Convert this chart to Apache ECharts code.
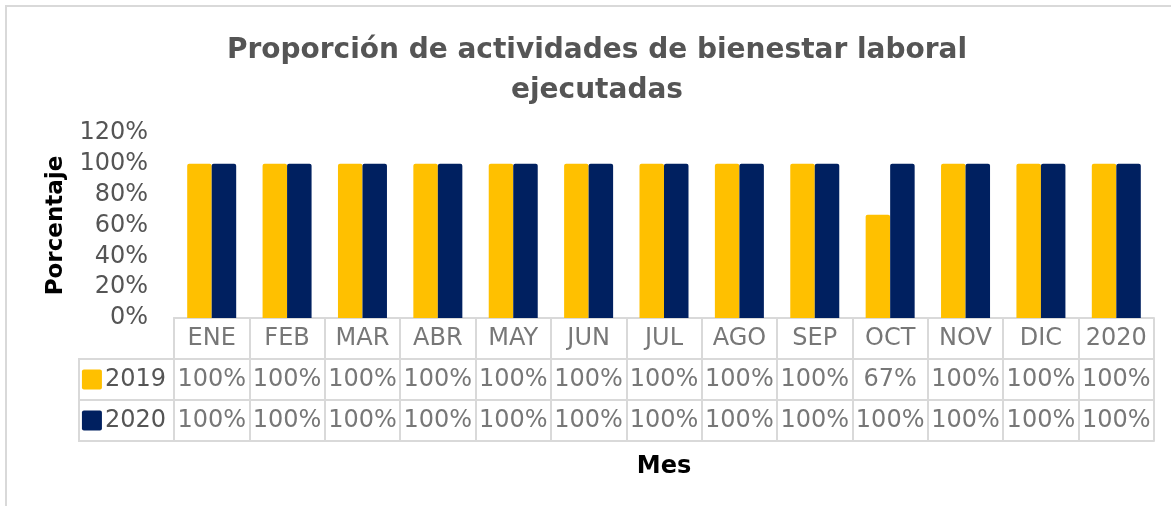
<!DOCTYPE html>
<html>
<head>
<meta charset="utf-8">
<script src="https://cdn.jsdelivr.net/npm/echarts@6/dist/echarts.min.js"></script>
<style>
  html, body { margin: 0; padding: 0; background: #fff; }
  #chart { width: 1171px; height: 506px; }
</style>
</head>
<body>
<div id="chart"></div>
<script>
// datos
var meses = ['ENE', 'FEB', 'MAR', 'ABR', 'MAY', 'JUN', 'JUL', 'AGO', 'SEP', 'OCT', 'NOV', 'DIC', '2020'];
var serie2019 = [1, 1, 1, 1, 1, 1, 1, 1, 1, 0.67, 1, 1, 1];
var serie2020 = [1, 1, 1, 1, 1, 1, 1, 1, 1, 1, 1, 1, 1];
var filas = ['', '2019', '2020'];

var amarillo = '#FFC000';
var azul = '#002060';
var gris = '#555555';
var linea = '#d9d9d9';
var fuente = '"DejaVu Sans", Verdana, sans-serif';

function pct(v) { return Math.round(v * 100) + '%'; }

// celdas de la tabla de datos
var celdas = [];
for (var i = 0; i < meses.length; i++) {
  celdas.push([i, 0, meses[i]]);
  celdas.push([i, 1, pct(serie2019[i])]);
  celdas.push([i, 2, pct(serie2020[i])]);
}

var chart = echarts.init(document.getElementById('chart'));

var option = {
  backgroundColor: '#fff',
  animation: false,
  title: {
    text: 'Proporción de actividades de bienestar laboral\nejecutadas',
    left: 592,
    top: 26,
    textAlign: 'center',
    textStyle: {
      fontFamily: fuente,
      fontSize: 28,
      fontWeight: 'bold',
      color: gris,
      lineHeight: 40
    }
  },
  grid: [
    { left: 174, right: 17, top: 133, height: 185 },
    { left: 174, right: 17, top: 318, height: 123 }
  ],
  xAxis: [{
    type: 'category',
    gridIndex: 0,
    data: meses,
    axisLine: { show: true, lineStyle: { color: linea, width: 2 } },
    axisTick: { show: false },
    axisLabel: { show: false }
  }, {
    type: 'category',
    gridIndex: 1,
    data: meses,
    name: 'Mes',
    nameLocation: 'middle',
    nameGap: 14,
    nameTextStyle: { fontFamily: fuente, fontSize: 24, fontWeight: 'bold', color: '#000' },
    axisLine: { show: true, lineStyle: { color: linea, width: 2 } },
    axisTick: { show: false },
    axisLabel: { show: false },
    splitLine: { show: true, showMinLine: true, showMaxLine: true, lineStyle: { color: linea, width: 2 } }
  }],
  yAxis: [{
    type: 'value',
    gridIndex: 0,
    min: 0,
    max: 1.2,
    interval: 0.2,
    name: 'Porcentaje',
    nameLocation: 'middle',
    nameRotate: 90,
    nameGap: 106,
    nameTextStyle: { fontFamily: fuente, fontSize: 23, fontWeight: 'bold', color: '#000' },
    axisLine: { show: false },
    axisTick: { show: false },
    splitLine: { show: false },
    axisLabel: {
      margin: 26,
      fontFamily: fuente,
      fontSize: 24,
      color: gris,
      formatter: function (v) { return pct(v); }
    }
  }, {
    type: 'category',
    gridIndex: 1,
    inverse: true,
    data: filas,
    axisLine: { show: true, lineStyle: { color: linea, width: 2 } },
    axisTick: { show: false },
    splitLine: { show: true, showMinLine: true, showMaxLine: true, lineStyle: { color: linea, width: 2 } },
    axisLabel: {
      margin: 8,
      fontFamily: fuente,
      fontSize: 24,
      color: gris,
      formatter: function (v) {
        if (v === '2019') return '{a|}{t|' + v + '}';
        if (v === '2020') return '{b|}{t|' + v + '}';
        return '';
      },
      rich: {
        a: { width: 20, height: 20, backgroundColor: amarillo, borderRadius: 2 },
        b: { width: 20, height: 20, backgroundColor: azul, borderRadius: 2 },
        t: { fontFamily: fuente, fontSize: 24, color: gris, padding: [0, 0, 0, 3] }
      }
    }
  }],
  graphic: [
    {
      type: 'rect',
      shape: { x: 6, y: 6, width: 1200, height: 540 },
      style: { fill: 'none', stroke: linea, lineWidth: 2 },
      silent: true
    },
    {
      type: 'rect',
      shape: { x: 79, y: 359, width: 95, height: 82 },
      style: { fill: 'none', stroke: linea, lineWidth: 2 },
      silent: true
    },
    {
      type: 'line',
      shape: { x1: 79, y1: 400, x2: 174, y2: 400 },
      style: { stroke: linea, lineWidth: 2 },
      silent: true
    }
  ],
  series: [{
    name: '2019',
    type: 'bar',
    xAxisIndex: 0,
    yAxisIndex: 0,
    data: serie2019,
    barGap: '0%',
    barCategoryGap: '35%',
    itemStyle: { color: amarillo, borderRadius: [2, 2, 0, 0] }
  }, {
    name: '2020',
    type: 'bar',
    xAxisIndex: 0,
    yAxisIndex: 0,
    data: serie2020,
    barGap: '0%',
    barCategoryGap: '35%',
    itemStyle: { color: azul, borderRadius: [2, 2, 0, 0] }
  }, {
    name: 'tabla',
    type: 'scatter',
    xAxisIndex: 1,
    yAxisIndex: 1,
    data: celdas,
    symbolSize: 1,
    itemStyle: { color: 'rgba(0,0,0,0)' },
    silent: true,
    label: {
      show: true,
      position: 'inside',
      align: 'center',
      verticalAlign: 'middle',
      fontFamily: fuente,
      fontSize: 24,
      color: gris,
      formatter: function (p) { return p.data[2]; }
    }
  }]
};

chart.setOption(option);
</script>
</body>
</html>
